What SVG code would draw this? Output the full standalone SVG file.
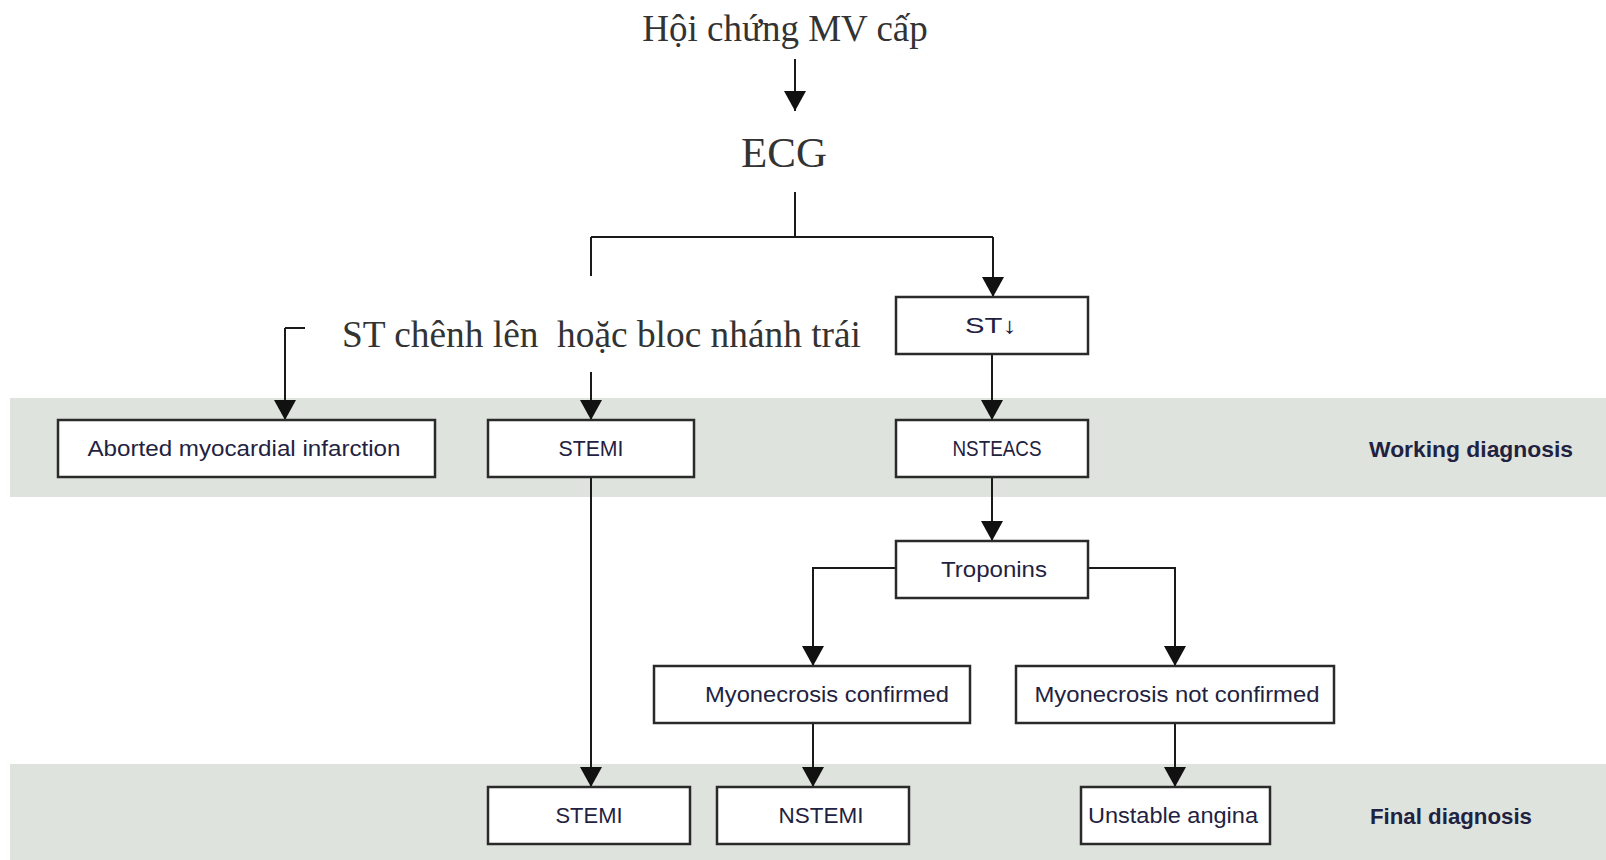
<svg xmlns="http://www.w3.org/2000/svg" width="1606" height="860" viewBox="0 0 1606 860">
<defs>
<marker id="ah" markerUnits="userSpaceOnUse" markerWidth="20" markerHeight="22" refX="20" refY="11" orient="auto" viewBox="0 0 20 22">
<path d="M0,0 L20,11 L0,22 Z" fill="#111"/>
</marker>
<style>
.band{fill:#dfe3de}
.box{fill:#fff;stroke:#2a2a2a;stroke-width:2.5}
.ln{fill:none;stroke:#1a1a1a;stroke-width:2}
.arr{fill:none;stroke:#1a1a1a;stroke-width:2;marker-end:url(#ah)}
.vt{font-family:"Liberation Serif","Times New Roman",serif;fill:#333}
.bt{font-family:"Liberation Sans Narrow","Liberation Sans",Arial,sans-serif;font-size:22px;fill:#1f2240;text-anchor:middle;dominant-baseline:central}
.lab{font-family:"Liberation Sans Narrow","Liberation Sans",Arial,sans-serif;font-size:22px;font-weight:bold;fill:#1f2240;dominant-baseline:central}
</style>
</defs>
<rect width="1606" height="860" fill="#fff"/>
<rect class="band" x="10" y="398" width="1596" height="99"/>
<rect class="band" x="10" y="764" width="1596" height="96"/>
<g id="connectors">
<path class="arr" d="M795,59 V111"/>
<path class="ln" d="M795,192 V237 M591,237 H993 M591,237 V276"/>
<path class="arr" d="M993,237 V297"/>
<path class="ln" d="M305,328 H285"/>
<path class="arr" d="M285,328 V420"/>
<path class="arr" d="M591,372 V420"/>
<path class="arr" d="M992,354 V420"/>
<path class="arr" d="M992,477 V541"/>
<path class="arr" d="M591,477 V787"/>
<path class="arr" d="M896,568 H813 V666"/>
<path class="arr" d="M1088,568 H1175 V666"/>
<path class="arr" d="M813,723 V787"/>
<path class="arr" d="M1175,723 V787"/>
</g>
<g id="title"><text class="vt" x="785" y="41" font-size="37" text-anchor="middle">Hội chứng MV cấp</text></g>
<g id="ecg"><text class="vt" x="784" y="167" font-size="43" text-anchor="middle">ECG</text></g>
<g id="st-elevation"><text class="vt" x="342" y="347" font-size="37" xml:space="preserve" textLength="519" lengthAdjust="spacingAndGlyphs">ST chênh lên  hoặc bloc nhánh trái</text></g>
<g id="st-down"><rect class="box" x="896" y="297" width="192" height="57"/><text class="bt" x="991" y="325" textLength="52" lengthAdjust="spacingAndGlyphs">ST↓</text></g>
<g id="aborted"><rect class="box" x="58" y="420" width="377" height="57"/><text class="bt" x="244" y="448" textLength="313" lengthAdjust="spacingAndGlyphs">Aborted myocardial infarction</text></g>
<g id="stemi-working"><rect class="box" x="488" y="420" width="206" height="57"/><text class="bt" x="591" y="448" textLength="65" lengthAdjust="spacingAndGlyphs">STEMI</text></g>
<g id="nsteacs"><rect class="box" x="896" y="420" width="192" height="57"/><text class="bt" x="997" y="448" textLength="89" lengthAdjust="spacingAndGlyphs">NSTEACS</text></g>
<g id="working-label"><text class="lab" x="1369" y="449" textLength="204" lengthAdjust="spacingAndGlyphs">Working diagnosis</text></g>
<g id="troponins"><rect class="box" x="896" y="541" width="192" height="57"/><text class="bt" x="994" y="569" textLength="106" lengthAdjust="spacingAndGlyphs">Troponins</text></g>
<g id="myo-confirmed"><rect class="box" x="654" y="666" width="316" height="57"/><text class="bt" x="827" y="694" textLength="244" lengthAdjust="spacingAndGlyphs">Myonecrosis confirmed</text></g>
<g id="myo-not-confirmed"><rect class="box" x="1016" y="666" width="318" height="57"/><text class="bt" x="1177" y="694" textLength="285" lengthAdjust="spacingAndGlyphs">Myonecrosis not confirmed</text></g>
<g id="stemi-final"><rect class="box" x="488" y="787" width="202" height="57"/><text class="bt" x="589" y="815" textLength="67" lengthAdjust="spacingAndGlyphs">STEMI</text></g>
<g id="nstemi"><rect class="box" x="717" y="787" width="192" height="57"/><text class="bt" x="821" y="815" textLength="85" lengthAdjust="spacingAndGlyphs">NSTEMI</text></g>
<g id="unstable-angina"><rect class="box" x="1081" y="787" width="189" height="57"/><text class="bt" x="1173" y="815" textLength="170" lengthAdjust="spacingAndGlyphs">Unstable angina</text></g>
<g id="final-label"><text class="lab" x="1370" y="816" textLength="162" lengthAdjust="spacingAndGlyphs">Final diagnosis</text></g>
</svg>
